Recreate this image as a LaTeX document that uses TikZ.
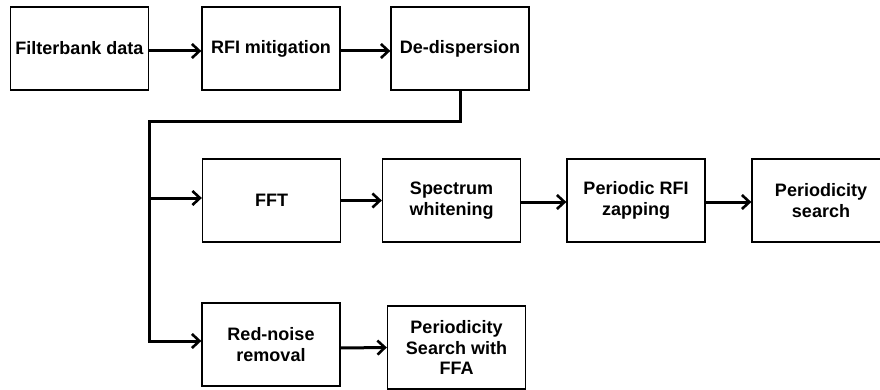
\documentclass[tikz,border=0pt]{standalone}
\usepackage{fontspec}
\setmainfont{Liberation Sans}
\usetikzlibrary{arrows.meta}
\begin{document}
\begin{tikzpicture}[x=1pt,y=-1pt,
  box/.style={draw=black,line width=1.3pt,rectangle,minimum width=138pt,minimum height=83pt,
    inner sep=0pt,align=center,font=\fontsize{18}{20.5}\selectfont\bfseries},
  conn/.style={line width=3pt,-{Straight Barb[length=7.5pt,width=14pt,line width=2.6pt]}},
  trunk/.style={line width=3pt}]
\useasboundingbox (0,0) rectangle (880,390);
\node[box] (fb)   at (79.5,48.5)  {Filterbank data};
\node[box] (rfi)  at (271,48.5)   {RFI mitigation};
\node[box] (dd)   at (460,48.5)   {De-dispersion};
\node[box] (fft)  at (271.5,200.5){FFT};
\node[box] (sw)   at (451.5,200.5){Spectrum\\whitening};
\node[box] (prfi) at (636,200.5)  {Periodic RFI\\zapping};
\node[box] (ps)   at (821,200.5)  {Periodicity\\search};
\node[box] (rn)   at (271,344.5)  {Red-noise\\removal};
\node[box] (ffa)  at (456.5,347.5){Periodicity\\Search with\\FFA};
\coordinate (c1) at (460,122);
\coordinate (c2) at (149,122);
\coordinate (c3) at (149,341);
\coordinate (c4) at (149,198);
\draw[conn] ([yshift=-2.5pt]fb.east) -- ([yshift=-2.5pt]rfi.west);
\draw[conn] ([yshift=-2.5pt]rfi.east) -- ([yshift=-2.5pt]dd.west);
\draw[trunk] (dd.south) -- (c1) -- (c2) -- (c3);
\draw[conn] ([xshift=-1.5pt]c3) -- (rn.west |- c3);
\draw[conn] (c4) -- (fft.west |- c4);
\draw[conn] (fft.east) -- (sw.west);
\draw[conn] ([yshift=-1.5pt]sw.east) -- ([yshift=-1.5pt]prfi.west);
\draw[conn] ([yshift=-1.5pt]prfi.east) -- ([yshift=-1.5pt]ps.west);
\draw[conn] ([yshift=-3.5pt]rn.east) -- (ffa.west);
\end{tikzpicture}
\end{document}
